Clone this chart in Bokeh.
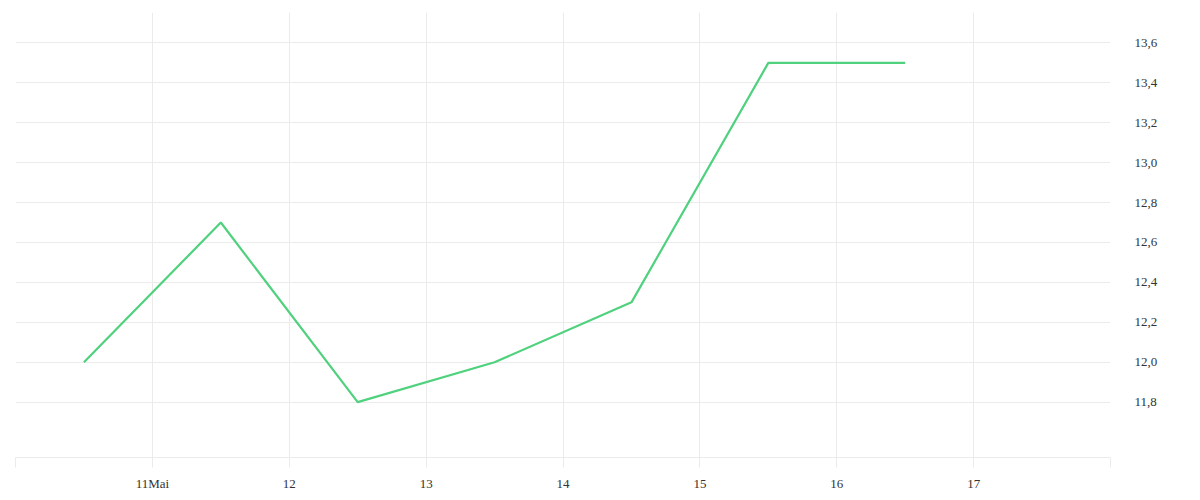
from bokeh.plotting import figure
from bokeh.models import Range1d, FixedTicker
from bokeh.embed import file_html
from bokeh.resources import INLINE

# data: x = day of May (midday points), y = values
days = [10.5, 11.5, 12.5, 13.5, 14.5, 15.5, 16.5]
values = [12.0, 12.7, 11.8, 12.0, 12.3, 13.5, 13.5]

x_ticks = [10, 11, 12, 13, 14, 15, 16, 17, 18]
x_labels = ["", "11Mai", "12", "13", "14", "15", "16", "17", ""]
y_ticks = [11.8, 12.0, 12.2, 12.4, 12.6, 12.8, 13.0, 13.2, 13.4, 13.6]
y_labels = ["11,8", "12,0", "12,2", "12,4", "12,6", "12,8", "13,0", "13,2", "13,4", "13,6"]

p = figure(width=1192, height=493, output_backend="svg", toolbar_location=None,
           y_axis_location="right",
           x_range=Range1d(10, 18), y_range=Range1d(11.5225, 13.7525),
           min_border_left=15, min_border_top=12, min_border_right=82, min_border_bottom=34)
p.outline_line_color = None
p.background_fill_color = "white"
p.border_fill_color = "white"

p.line(days, values, line_color="#4fd17e", line_width=2.2)

grid_col = "#ebebeb"
p.xgrid.ticker = FixedTicker(ticks=x_ticks)
p.ygrid.ticker = FixedTicker(ticks=y_ticks)
p.xgrid.grid_line_color = grid_col
p.ygrid.grid_line_color = grid_col

xa = p.xaxis[0]
xa.ticker = FixedTicker(ticks=x_ticks)
xa.major_label_overrides = {t: l for t, l in zip(x_ticks, x_labels)}
xa.axis_line_color = grid_col
xa.major_tick_line_color = grid_col
xa.major_tick_out = 10
xa.major_tick_in = 0
xa.minor_tick_line_color = None
xa.major_label_standoff = 8
xa.major_label_text_font = "Liberation Serif"
xa.major_label_text_font_size = "13px"
xa.major_label_text_color = "#333333"

ya = p.yaxis[0]
ya.ticker = FixedTicker(ticks=y_ticks)
ya.major_label_overrides = {t: l for t, l in zip(y_ticks, y_labels)}
ya.axis_line_color = None
ya.major_tick_line_color = None
ya.minor_tick_line_color = None
ya.major_label_standoff = 18
ya.major_label_text_font = "Liberation Serif"
ya.major_label_text_font_size = "13px"
ya.major_label_text_color = "#333333"

open("out.html", "w").write(file_html(p, INLINE))
